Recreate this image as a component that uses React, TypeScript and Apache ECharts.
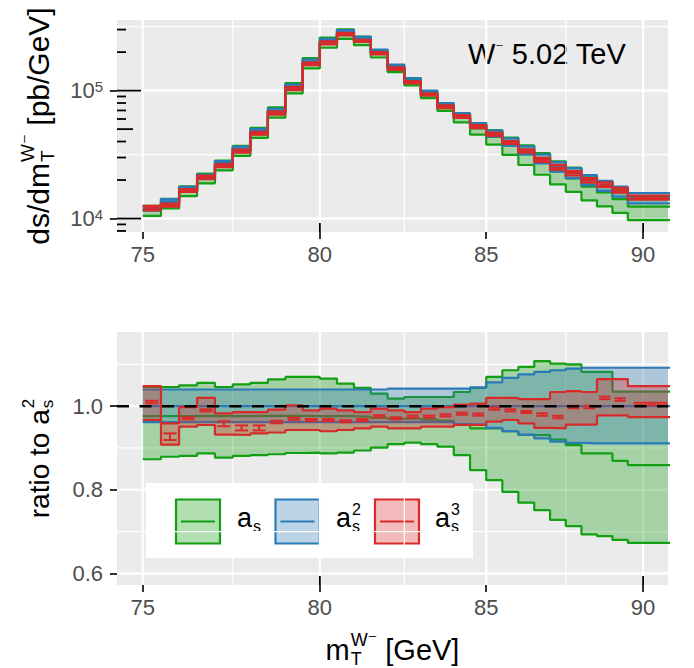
import React, { useEffect, useRef } from "react";
import * as echarts from "echarts";

const FONT = '"Liberation Sans", Arial, "DejaVu Sans", sans-serif';

// ---------------- data ----------------
const binEdges = [75, 75.5, 76, 76.5, 77, 77.5, 78, 78.5, 79, 79.5, 80, 80.5, 81, 81.5, 82, 82.5, 83, 83.5, 84, 84.5, 85, 85.5, 86, 86.5, 87, 87.5, 88, 88.5, 89, 89.5, 91];
const xTicks = [75, 80, 85, 90];
const xMinorGrid = [77.5, 82.5, 87.5];
const xLogTicks = [80, 90];
const topYTicks = [10000, 100000];
const topYMinorGrid = [31623, 316228];
const topYLogTicks = [8000, 9000, 10000, 20000, 30000, 40000, 50000, 60000, 70000, 80000, 90000, 100000, 200000, 300000];
const botYTicks = [0.6, 0.8, 1.0];
const botYMinorGrid = [0.7, 0.9, 1.1];
const ratioRef = 1.0;

// a_s^2 central cross section [pb/GeV]
const xsecAs2 = [12000, 13650, 17000, 21250, 27100, 35100, 48350, 69400, 107000, 168000, 244000, 286000, 253500, 201500, 153500, 120500, 96000, 76800, 64000, 53400, 46000, 39600, 34100, 29300, 25450, 22700, 20000, 18050, 16300, 14450];

// ratios to a_s^2 central
const as1Lo = [0.873, 0.879, 0.881, 0.887, 0.877, 0.881, 0.883, 0.885, 0.888, 0.889, 0.887, 0.889, 0.894, 0.901, 0.909, 0.913, 0.909, 0.903, 0.883, 0.847, 0.823, 0.795, 0.769, 0.751, 0.728, 0.713, 0.693, 0.689, 0.68, 0.673];
const as1Hi = [1.046, 1.046, 1.05, 1.056, 1.046, 1.052, 1.056, 1.064, 1.07, 1.07, 1.066, 1.054, 1.044, 1.03, 1.018, 1.022, 1.022, 1.022, 1.034, 1.044, 1.07, 1.086, 1.094, 1.108, 1.102, 1.1, 1.082, 1.082, 1.035, 1.035];
const as1Mid = [0.976, 0.976, 0.976, 0.977, 0.976, 0.976, 0.977, 0.977, 0.977, 0.976, 0.976, 0.976, 0.975, 0.972, 0.97, 0.97, 0.968, 0.965, 0.955, 0.947, 0.947, 0.94, 0.931, 0.931, 0.92, 0.907, 0.887, 0.887, 0.869, 0.859];

const as2Lo = [0.962, 0.962, 0.962, 0.962, 0.962, 0.962, 0.962, 0.962, 0.962, 0.962, 0.962, 0.962, 0.962, 0.962, 0.962, 0.962, 0.962, 0.962, 0.957, 0.956, 0.948, 0.94, 0.932, 0.923, 0.915, 0.912, 0.911, 0.911, 0.911, 0.911];
const as2Hi = [1.04, 1.04, 1.04, 1.04, 1.04, 1.04, 1.04, 1.04, 1.04, 1.04, 1.04, 1.04, 1.04, 1.04, 1.042, 1.042, 1.042, 1.042, 1.042, 1.045, 1.057, 1.068, 1.076, 1.082, 1.086, 1.09, 1.092, 1.092, 1.092, 1.092];
const as2Mid = [1, 1, 1, 1, 1, 1, 1, 1, 1, 1, 1, 1, 1, 1, 1, 1, 1, 1, 1, 1, 1, 1, 1, 1, 1, 1, 1, 1, 1, 1];

const as3Lo = [0.967, 0.908, 0.951, 0.955, 0.932, 0.931, 0.935, 0.937, 0.943, 0.943, 0.94, 0.943, 0.947, 0.951, 0.947, 0.947, 0.951, 0.951, 0.955, 0.955, 0.963, 0.967, 0.959, 0.948, 0.947, 0.956, 0.956, 0.978, 0.978, 0.974];
const as3Hi = [1.048, 0.959, 0.998, 1.02, 0.983, 0.986, 0.986, 0.992, 1.002, 0.99, 0.994, 0.99, 0.986, 0.994, 0.99, 0.986, 0.994, 0.998, 1.004, 1.006, 1.02, 1.02, 1.017, 1.017, 1.034, 1.036, 1.034, 1.065, 1.065, 1.048];
const as3Mid = [1.01, 0.927, 0.971, 0.99, 0.958, 0.948, 0.948, 0.962, 0.97, 0.967, 0.967, 0.964, 0.967, 0.976, 0.971, 0.975, 0.975, 0.978, 0.982, 0.98, 0.994, 0.99, 0.986, 0.98, 0.974, 0.998, 0.998, 1.02, 1.016, 1.005];
const as3Err = [0.003, 0.008, 0.0025, 0.0025, 0.006, 0.006, 0.006, 0.003, 0.0025, 0.0025, 0.0025, 0.0025, 0.0025, 0.0025, 0.0025, 0.0025, 0.0025, 0.0025, 0.0025, 0.0025, 0.0025, 0.0025, 0.0025, 0.003, 0.003, 0.003, 0.003, 0.003, 0.003, 0.003];

const X_MIN = 74.3;
const X_MAX = 90.82;
const TOP_Y_MIN = 7850;
const TOP_Y_MAX = 356500;
const BOT_Y_MIN = 0.572;
const BOT_Y_MAX = 1.1776;

const COLORS: Record<string, string> = { as1: "#12A012", as2: "#2A7AB8", as3: "#D92A2A" };

// ---------------- helpers ----------------
const ln = Math.log;
const nBins = binEdges.length - 1;
const LW = 2.2;

function rgba(hex: string, a: number) {
  const n = parseInt(hex.slice(1), 16);
  return `rgba(${(n >> 16) & 255},${(n >> 8) & 255},${n & 255},${a})`;
}

let _ctx: CanvasRenderingContext2D | null = null;
function textWidth(t: string, size: number) {
  if (!_ctx) _ctx = document.createElement("canvas").getContext("2d");
  _ctx!.font = `${size}px ${FONT}`;
  return _ctx!.measureText(t).width;
}

type Seg = { t?: string; sub?: string; sup?: string };
function mathText(segs: Seg[], F: number, fill: string, center: boolean, supDy = -0.36, subDy = 0.3, sRatio = 0.62) {
  const sF = Math.round(F * sRatio);
  const items: any[] = [];
  let x = 0;
  const mk = (text: string, px: number, py: number, size: number) => ({
    type: "text",
    x: px,
    y: py,
    style: { text, fontSize: size, fontFamily: FONT, fill, align: "left", verticalAlign: "middle" },
  });
  for (const s of segs) {
    if (s.t !== undefined) {
      items.push(mk(s.t, x, 0, F));
      x += textWidth(s.t, F);
    } else {
      let w = 0;
      if (s.sub) {
        items.push(mk(s.sub, x + 1, subDy * F, sF));
        w = Math.max(w, textWidth(s.sub, sF) + 1);
      }
      if (s.sup) {
        items.push(mk(s.sup, x + 1, supDy * F, sF));
        w = Math.max(w, textWidth(s.sup, sF) + 1);
      }
      x += w;
    }
  }
  if (center) items.forEach((it) => (it.x -= x / 2));
  return items;
}

type Scale = (i: number, r: number) => number;

function stepData(vals: number[], scale: Scale) {
  return binEdges.map((e, k) => {
    const i = Math.min(k, nBins - 1);
    return [ln(e), scale(i, vals[i])];
  });
}

function binData(lo: number[], hi: number[], scale: Scale) {
  return lo.map((_, i) => [ln(binEdges[i]), ln(binEdges[i + 1]), scale(i, lo[i]), scale(i, hi[i])]);
}

function panelSeries(g: number, scale: Scale, refY: number) {
  const out: any[] = [];
  const common = { xAxisIndex: g, yAxisIndex: g, silent: true, animation: false };

  const vGrid = (vals: number[], w: number) => ({
    ...common,
    type: "custom",
    z: 1,
    clip: false,
    data: vals.map((v) => [ln(v), refY]),
    renderItem: (params: any, api: any) => {
      const cs = params.coordSys;
      const x = api.coord([api.value(0), api.value(1)])[0];
      return { type: "line", shape: { x1: x, y1: cs.y, x2: x, y2: cs.y + cs.height }, style: { stroke: "#FFFFFF", lineWidth: w } };
    },
  });
  const hGrid = (vals: number[], w: number) => ({
    ...common,
    type: "custom",
    z: 1,
    clip: false,
    data: vals.map((v) => [ln(80), v]),
    renderItem: (params: any, api: any) => {
      const cs = params.coordSys;
      const y = api.coord([api.value(0), api.value(1)])[1];
      return { type: "line", shape: { x1: cs.x, y1: y, x2: cs.x + cs.width, y2: y }, style: { stroke: "#FFFFFF", lineWidth: w } };
    },
  });
  out.push(vGrid(xMinorGrid, 1.2), vGrid(xTicks, 2.2));
  if (g === 0) out.push(hGrid(topYMinorGrid, 1.2), hGrid(topYTicks, 2.2));
  else out.push(hGrid(botYMinorGrid, 1.2), hGrid(botYTicks, 2.2));

  const groups = [
    { key: "as1", lo: as1Lo, hi: as1Hi, mid: as1Mid as number[] | null, z: 2 },
    { key: "as2", lo: as2Lo, hi: as2Hi, mid: as2Mid as number[] | null, z: 4 },
    { key: "as3", lo: as3Lo, hi: as3Hi, mid: null as number[] | null, z: 6 },
  ];
  for (const gr of groups) {
    const color = COLORS[gr.key];
    out.push({
      ...common,
      type: "custom",
      z: gr.z,
      clip: true,
      data: binData(gr.lo, gr.hi, scale),
      renderItem: (params: any, api: any) => {
        const a = api.coord([api.value(0), api.value(3)]);
        const b = api.coord([api.value(1), api.value(2)]);
        return {
          type: "rect",
          shape: { x: a[0], y: a[1], width: b[0] - a[0], height: b[1] - a[1] },
          style: { fill: rgba(color, 0.32) },
        };
      },
    });
    const lines = [gr.lo, gr.hi];
    if (gr.mid) lines.push(gr.mid);
    for (const arr of lines) {
      out.push({
        ...common,
        type: "line",
        step: "end",
        z: gr.z + 1,
        symbol: "none",
        clip: true,
        lineStyle: { color, width: LW },
        data: stepData(arr, scale),
      });
    }
  }

  // a_s^3 error bars
  out.push({
    ...common,
    type: "custom",
    z: 7,
    clip: true,
    data: as3Mid.map((m, i) => [ln(binEdges[i]), ln(binEdges[i + 1]), scale(i, m - as3Err[i]), scale(i, m + as3Err[i])]),
    renderItem: (params: any, api: any) => {
      const p0 = api.coord([api.value(0), api.value(2)]);
      const p1 = api.coord([api.value(1), api.value(3)]);
      const w = p1[0] - p0[0];
      const l = p0[0] + 0.13 * w;
      const r = p1[0] - 0.13 * w;
      const c = (p0[0] + p1[0]) / 2;
      const st = { stroke: COLORS.as3, lineWidth: 2 };
      return {
        type: "group",
        children: [
          { type: "line", shape: { x1: l, y1: p1[1], x2: r, y2: p1[1] }, style: st },
          { type: "line", shape: { x1: l, y1: p0[1], x2: r, y2: p0[1] }, style: st },
          { type: "line", shape: { x1: c, y1: p0[1], x2: c, y2: p1[1] }, style: st },
        ],
      };
    },
  });

  out.push({
    ...common,
    type: "custom",
    z: 10,
    clip: false,
    data: xLogTicks.map((v) => [ln(v), refY]),
    renderItem: (params: any, api: any) => {
      const cs = params.coordSys;
      const x = api.coord([api.value(0), api.value(1)])[0];
      const yb = cs.y + cs.height;
      return { type: "line", shape: { x1: x, y1: yb, x2: x, y2: yb - 9 }, style: { stroke: "#000000", lineWidth: 1.8 } };
    },
  });

  if (g === 0) {
    out.push({
      ...common,
      type: "custom",
      z: 10,
      clip: false,
      data: topYLogTicks.map((v) => [ln(X_MIN), v]),
      renderItem: (params: any, api: any) => {
        const cs = params.coordSys;
        const v = api.value(1);
        const y = api.coord([api.value(0), v])[1];
        const e = Math.log10(v);
        const mant = Math.round(v / Math.pow(10, Math.floor(e + 1e-9)));
        const len = mant === 1 ? 24 : mant === 5 ? 16 : 9;
        return { type: "line", shape: { x1: cs.x, y1: y, x2: cs.x + len, y2: y }, style: { stroke: "#000000", lineWidth: 1.8 } };
      },
    });
  } else {
    out.push({
      ...common,
      type: "custom",
      z: 9,
      clip: false,
      data: [[ln(X_MIN), ratioRef]],
      renderItem: (params: any, api: any) => {
        const cs = params.coordSys;
        const y = api.coord([api.value(0), api.value(1)])[1];
        return {
          type: "line",
          shape: { x1: cs.x, y1: y, x2: cs.x + cs.width, y2: y },
          style: { stroke: "#000000", lineWidth: 2.6, lineDash: [12, 10.5] },
        };
      },
    });
  }
  return out;
}

const tickLabel = { fontSize: 22, color: "#4D4D4D", fontFamily: FONT };
const axisTick = { show: true, length: 7, lineStyle: { color: "#333333", width: 2 } };

function xAxis(g: number) {
  const cv = xTicks.map(ln);
  return {
    type: "value",
    gridIndex: g,
    min: ln(X_MIN),
    max: ln(X_MAX),
    axisLine: { show: false },
    axisTick: { ...axisTick, customValues: cv },
    axisLabel: { ...tickLabel, margin: 11, customValues: cv, formatter: (v: number) => String(Math.round(Math.exp(v))) },
    splitLine: { show: false },
    minorSplitLine: { show: false },
  };
}

export default function App() {
  const ref = useRef<HTMLDivElement>(null);
  useEffect(() => {
    document.body.style.margin = "0";
    if (!ref.current) return;
    const chart = echarts.init(ref.current, null, { renderer: "svg" });

    const topScale: Scale = (i, r) => xsecAs2[i] * r;
    const botScale: Scale = (_i, r) => r;

    const legendItems = [
      { key: "as1", x: 176, tx: 237, label: [{ t: "a" }, { sub: "s" }] as Seg[] },
      { key: "as2", x: 275.5, tx: 336, label: [{ t: "a" }, { sub: "s", sup: "2" }] as Seg[] },
      { key: "as3", x: 375, tx: 435, label: [{ t: "a" }, { sub: "s", sup: "3" }] as Seg[] },
    ];
    const legendChildren: any[] = [
      { type: "rect", shape: { x: 146, y: 483, width: 327, height: 75 }, style: { fill: "#FFFFFF" } },
    ];
    for (const it of legendItems) {
      const c = COLORS[it.key];
      legendChildren.push({
        type: "rect",
        shape: { x: it.x, y: 499.5, width: 44, height: 44 },
        style: { fill: rgba(c, 0.32), stroke: c, lineWidth: 2.2 },
      });
      legendChildren.push({
        type: "line",
        shape: { x1: it.x + 5, y1: 521.5, x2: it.x + 39, y2: 521.5 },
        style: { stroke: c, lineWidth: 2.2 },
      });
      legendChildren.push({ type: "group", x: it.tx, y: 518, children: mathText(it.label, 27, "#000000", false, -0.3, 0.3, 0.6) });
    }

    const option: any = {
      animation: false,
      grid: [
        { left: 117, top: 20, width: 551, height: 212, show: true, backgroundColor: "#EBEBEB", borderWidth: 0, containLabel: false, outerBoundsMode: "none" },
        { left: 117, top: 332, width: 551, height: 253, show: true, backgroundColor: "#EBEBEB", borderWidth: 0, containLabel: false, outerBoundsMode: "none" },
      ],
      xAxis: [xAxis(0), xAxis(1)],
      yAxis: [
        {
          type: "log",
          logBase: 10,
          gridIndex: 0,
          min: TOP_Y_MIN,
          max: TOP_Y_MAX,
          axisLine: { show: false },
          axisTick: { ...axisTick, customValues: topYTicks },
          axisLabel: {
            customValues: topYTicks,
            margin: 14,
            formatter: (v: number) => `{b|10}{s|${Math.round(Math.log10(v))}}`,
            rich: {
              b: { fontSize: 22, color: "#4D4D4D", fontFamily: FONT, lineHeight: 24 },
              s: { fontSize: 15, color: "#4D4D4D", fontFamily: FONT, verticalAlign: "top", lineHeight: 11 },
            },
          },
          splitLine: { show: false },
          minorSplitLine: { show: false },
        },
        {
          type: "value",
          gridIndex: 1,
          min: BOT_Y_MIN,
          max: BOT_Y_MAX,
          axisLine: { show: false },
          axisTick: { ...axisTick, customValues: botYTicks },
          axisLabel: { ...tickLabel, margin: 14, customValues: botYTicks, formatter: (v: number) => v.toFixed(1) },
          splitLine: { show: false },
          minorSplitLine: { show: false },
        },
      ],
      series: [...panelSeries(0, topScale, 100000), ...panelSeries(1, botScale, ratioRef)],
      graphic: [
        {
          type: "text",
          x: 468,
          y: 54,
          style: {
            text: "{a|W}{m|⁻}{a| 5.02 TeV}",
            align: "left",
            verticalAlign: "middle",
            rich: {
              a: { fontSize: 29, fontFamily: FONT, color: "#000000", lineHeight: 29 },
              m: { fontSize: 16, fontFamily: FONT, color: "#000000", verticalAlign: "top", lineHeight: 16 },
            },
          },
        },
        {
          type: "group",
          x: 38,
          y: 126,
          rotation: Math.PI / 2,
          children: mathText([{ t: "ds/dm" }, { sub: "T", sup: "W⁻" }, { t: " [pb/GeV]" }], 30, "#000000", true),
        },
        {
          type: "group",
          x: 39,
          y: 458.5,
          rotation: Math.PI / 2,
          children: mathText([{ t: "ratio to a" }, { sub: "s", sup: "2" }], 28, "#000000", true),
        },
        {
          type: "group",
          x: 392.5,
          y: 650,
          children: mathText([{ t: "m" }, { sub: "T", sup: "W⁻" }, { t: " [GeV]" }], 29, "#000000", true),
        },
        { type: "group", children: legendChildren, z: 100 },
      ],
    };
    chart.setOption(option);
    return () => chart.dispose();
  }, []);
  return <div ref={ref} style={{ width: 694, height: 668 }} />;
}
